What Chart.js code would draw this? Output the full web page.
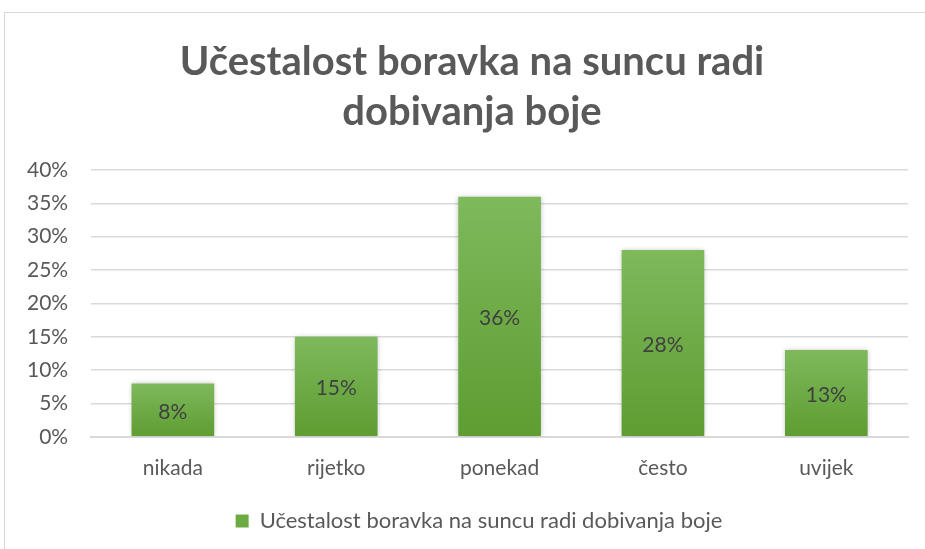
<!DOCTYPE html>
<html>
<head>
<meta charset="utf-8">
<script src="https://cdn.jsdelivr.net/npm/chart.js@4"></script>
<style>
  html, body { margin: 0; padding: 0; background: #ffffff; }
  #chartDiv { width: 925px; height: 549px; }
</style>
</head>
<body>
<div id="chartDiv"><canvas id="barChart"></canvas></div>
<script>
var categories = ["nikada", "rijetko", "ponekad", "često", "uvijek"];
var values = [8, 15, 36, 28, 13];
var seriesName = "Učestalost boravka na suncu radi dobivanja boje";
var titleLines = ["Učestalost boravka na suncu radi", "dobivanja boje"];
var yTicks = [0, 5, 10, 15, 20, 25, 30, 35, 40];

var textColor = '#595959';

// gradient per bar, lighter on top
function barFill(ctx) {
    var chart = ctx.chart;
    if (!chart.chartArea || ctx.raw === undefined) return 'rgb(112,173,71)';
    var y = chart.scales.y;
    var top = y.getPixelForValue(ctx.raw);
    var base = y.getPixelForValue(0);
    var g = chart.ctx.createLinearGradient(0, top, 0, base);
    g.addColorStop(0, 'rgb(126,185,92)');
    g.addColorStop(1, 'rgb(93,157,49)');
    return g;
}

// light frame around the whole chart
var framePlugin = {
    id: 'frame',
    afterLayout: function(chart) {
        // title and legend sit a bit right of the canvas centre
        chart.legend.left += 23;
        chart.legend.right += 23;
        chart.titleBlock.left += 16;
        chart.titleBlock.right += 16;
    },
    beforeDraw: function(chart) {
        var c = chart.ctx;
        c.save();
        c.strokeStyle = '#d9d9d9';
        c.lineWidth = 1;
        c.strokeRect(4.5, 12.5, 1000, 1000);
        c.restore();
    }
};

var shadowPlugin = {
    id: 'barShadow',
    beforeDatasetDraw: function(chart) {
        var c = chart.ctx;
        c.save();
        c.shadowColor = 'rgba(0,0,0,0.25)';
        c.shadowBlur = 5;
    },
    afterDatasetDraw: function(chart) {
        chart.ctx.restore();
    }
};

// value labels in the middle of each bar
var labelPlugin = {
    id: 'barLabels',
    afterDatasetsDraw: function(chart) {
        var c = chart.ctx;
        var meta = chart.getDatasetMeta(0);
        c.save();
        c.fillStyle = '#404040';
        c.font = '21px Lato';
        c.textAlign = 'center';
        c.textBaseline = 'middle';
        meta.data.forEach(function(bar, i) {
            var mid = (bar.y + bar.base) / 2;
            c.fillText(values[i] + '%', bar.x, mid + 2);
        });
        c.restore();
    }
};

var data = {
    labels: categories,
    datasets: [{
        label: seriesName,
        data: values,
        backgroundColor: barFill,
        borderWidth: 0,
        categoryPercentage: 1,
        barPercentage: 0.506
    }]
};

var options = {
    responsive: false,
    animation: false,
    devicePixelRatio: 1,
    layout: { padding: { left: 4, right: 17, top: 0, bottom: 7 } },
    plugins: {
        title: {
            display: true,
            text: titleLines,
            color: textColor,
            font: { family: 'Lato', size: 40, weight: 'bold', lineHeight: 1.25 },
            padding: { top: 37, bottom: 33 }
        },
        legend: {
            position: 'bottom',
            labels: {
                color: textColor,
                font: { family: 'Lato', size: 22 },
                boxWidth: 13,
                boxHeight: 13,
                padding: 10,
                generateLabels: function(chart) {
                    return [{
                        text: seriesName,
                        fillStyle: 'rgb(108,170,66)',
                        strokeStyle: 'rgb(108,170,66)',
                        lineWidth: 0,
                        datasetIndex: 0,
                        fontColor: textColor
                    }];
                }
            }
        },
        tooltip: { enabled: false }
    },
    scales: {
        x: {
            grid: { display: false },
            border: { color: '#d9d9d9', width: 2 },
            ticks: {
                color: textColor,
                font: { family: 'Lato', size: 21 },
                padding: 11
            },
            afterFit: function(scale) { scale.height += 8; }
        },
        y: {
            min: 0,
            max: 40,
            afterBuildTicks: function(axis) {
                axis.ticks = yTicks.map(function(v) { return { value: v }; });
            },
            grid: { color: '#d9d9d9', lineWidth: 1.5, drawTicks: false },
            border: { display: false },
            ticks: {
                color: textColor,
                font: { family: 'Lato', size: 21 },
                padding: 23,
                callback: function(v) { return v + '%'; }
            }
        }
    }
};

var canvas = document.getElementById('barChart');
canvas.width = 925;
canvas.height = 549;
var myBarChart = new Chart(canvas, {
    type: 'bar',
    data: data,
    options: options,
    plugins: [framePlugin, shadowPlugin, labelPlugin]
});
</script>
</body>
</html>
